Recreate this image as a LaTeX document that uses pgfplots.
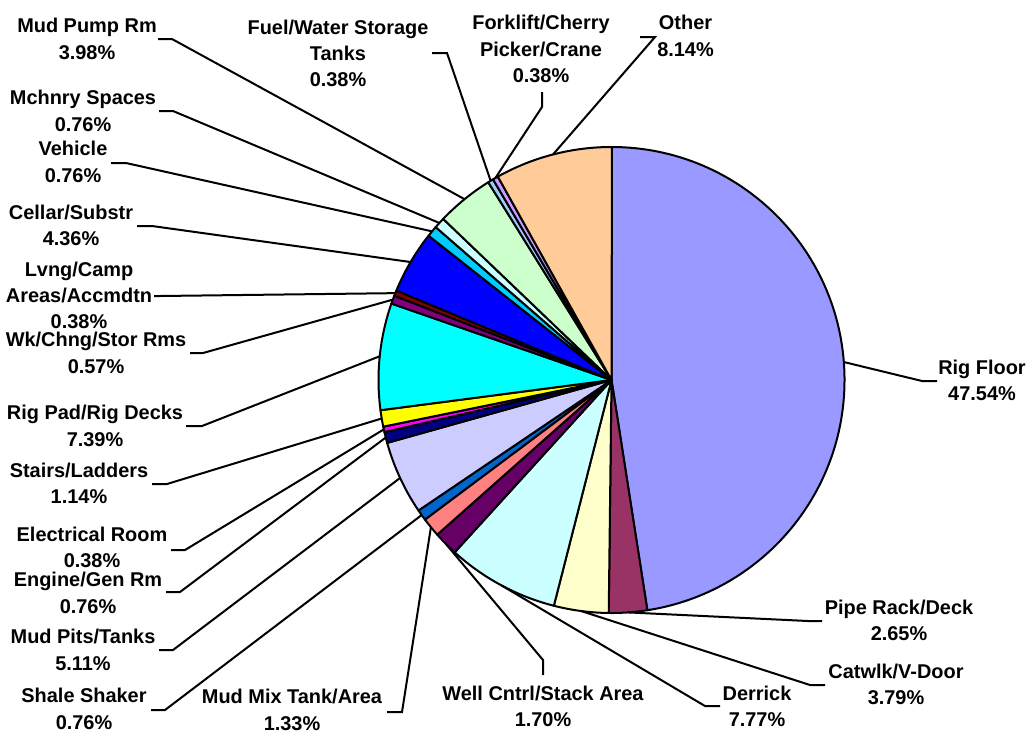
\documentclass[border=0pt]{standalone}
\usepackage{pgfplots}
\pgfplotsset{compat=1.18}
\usepackage{fontspec}
\setmainfont{Liberation Sans}
\definecolor{cRig}{HTML}{9999FF}
\definecolor{cPipe}{HTML}{993366}
\definecolor{cCat}{HTML}{FFFFCC}
\definecolor{cDer}{HTML}{CCFFFF}
\definecolor{cWell}{HTML}{660066}
\definecolor{cMix}{HTML}{FF8080}
\definecolor{cShale}{HTML}{0066CC}
\definecolor{cPits}{HTML}{CCCCFF}
\definecolor{cEng}{HTML}{000080}
\definecolor{cElec}{HTML}{FF00FF}
\definecolor{cStair}{HTML}{FFFF00}
\definecolor{cPad}{HTML}{00FFFF}
\definecolor{cWk}{HTML}{800080}
\definecolor{cLv}{HTML}{800000}
\definecolor{cCel}{HTML}{0000FF}
\definecolor{cVeh}{HTML}{00CCFF}
\definecolor{cMch}{HTML}{CCFFFF}
\definecolor{cPump}{HTML}{CCFFCC}
\definecolor{cFuel}{HTML}{99CCFF}
\definecolor{cFork}{HTML}{CC99FF}
\definecolor{cOther}{HTML}{FFCC99}
\tikzset{lbl/.style={font=\fontsize{10}{13.2}\selectfont\bfseries, align=center, inner sep=0pt}}
\def\cum{0}
\def\R{116.5bp}
% #1 value (%), #2 colour, #3,#4 leader elbow, #5,#6 leader end (pixel coords)
\newcommand{\slice}[6]{%
  \pgfmathsetmacro\sa{90-3.6*\cum}%
  \pgfmathsetmacro\nc{\cum+#1}%
  \pgfmathsetmacro\ea{90-3.6*\nc}%
  \pgfmathsetmacro\ma{(\sa+\ea)/2}%
  \edef\tmp{\noexpand\filldraw[fill=#2,draw=black,line width=1bp,line join=round] (axis cs:611.5,380) -- ++(\sa:\R) arc[start angle=\sa,end angle=\ea,radius=\R] -- cycle;%
  \noexpand\draw[line width=1bp] (axis cs:611.5,380) ++(\ma:\R) -- (axis cs:#3,#4) -- (axis cs:#5,#6);}%
  \tmp
  \global\let\cum\nc}
\begin{document}
\begin{tikzpicture}
\begin{axis}[x=0.5bp, y=0.5bp, xmin=0, xmax=1030, ymin=0, ymax=733, y dir=reverse,
  hide axis, clip=false]
\path (axis cs:0,0) rectangle (axis cs:1030,733);
\slice{47.54}{cRig}{922}{381}{937}{381}
\slice{2.65}{cPipe}{808}{621}{822}{621}
\slice{3.79}{cCat}{810}{685}{825}{685}
\slice{7.77}{cDer}{705}{706}{720}{706}
\slice{1.70}{cWell}{543}{660}{543}{675}
\slice{1.33}{cMix}{402}{712}{387}{712}
\slice{0.76}{cShale}{165}{710}{151}{710}
\slice{5.11}{cPits}{173}{650}{159}{650}
\slice{0.76}{cEng}{180}{592}{166}{592}
\slice{0.38}{cElec}{185}{550}{171}{550}
\slice{1.14}{cStair}{167}{484}{152}{484}
\slice{7.39}{cPad}{202}{426}{186}{426}
\slice{0.57}{cWk}{203}{353}{190}{353}
\slice{0.38}{cLv}{160}{296}{154}{296}
\slice{4.36}{cCel}{152}{226}{137}{226}
\slice{0.76}{cVeh}{126}{163}{111}{163}
\slice{0.76}{cMch}{173}{111}{159}{111}
\slice{3.98}{cPump}{172}{39}{158}{39}
\slice{0.38}{cFuel}{447}{53}{432}{53}
\slice{0.38}{cFork}{542}{107}{542}{92}
\slice{8.14}{cOther}{655}{37}{640}{37}
\node[lbl] at (axis cs:982,380.5) {Rig Floor\\47.54\%};
\node[lbl] at (axis cs:899,620.5) {Pipe Rack/Deck\\2.65\%};
\node[lbl] at (axis cs:896,684.5) {Catwlk/V-Door\\3.79\%};
\node[lbl] at (axis cs:757,706.5) {Derrick\\7.77\%};
\node[lbl] at (axis cs:543,706.5) {Well Cntrl/Stack Area\\1.70\%};
\node[lbl] at (axis cs:292,710) {Mud Mix Tank/Area\\1.33\%};
\node[lbl] at (axis cs:84,709) {Shale Shaker\\0.76\%};
\node[lbl] at (axis cs:83,650) {Mud Pits/Tanks\\5.11\%};
\node[lbl] at (axis cs:88,593) {Engine/Gen Rm\\0.76\%};
\node[lbl] at (axis cs:92,547.5) {Electrical Room\\0.38\%};
\node[lbl] at (axis cs:79,483.5) {Stairs/Ladders\\1.14\%};
\node[lbl] at (axis cs:95,426) {Rig Pad/Rig Decks\\7.39\%};
\node[lbl] at (axis cs:96,353) {Wk/Chng/Stor Rms\\0.57\%};
\node[lbl] at (axis cs:79,295.5) {Lvng/Camp\\Areas/Accmdtn\\0.38\%};
\node[lbl] at (axis cs:71,225.5) {Cellar/Substr\\4.36\%};
\node[lbl] at (axis cs:73,162) {Vehicle\\0.76\%};
\node[lbl] at (axis cs:83,111) {Mchnry Spaces\\0.76\%};
\node[lbl] at (axis cs:87,39) {Mud Pump Rm\\3.98\%};
\node[lbl] at (axis cs:338,53.3) {Fuel/Water Storage\\Tanks\\0.38\%};
\node[lbl] at (axis cs:541,49) {Forklift/Cherry\\Picker/Crane\\0.38\%};
\node[lbl] at (axis cs:685.5,36) {Other\\8.14\%};
\end{axis}
\end{tikzpicture}
\end{document}
